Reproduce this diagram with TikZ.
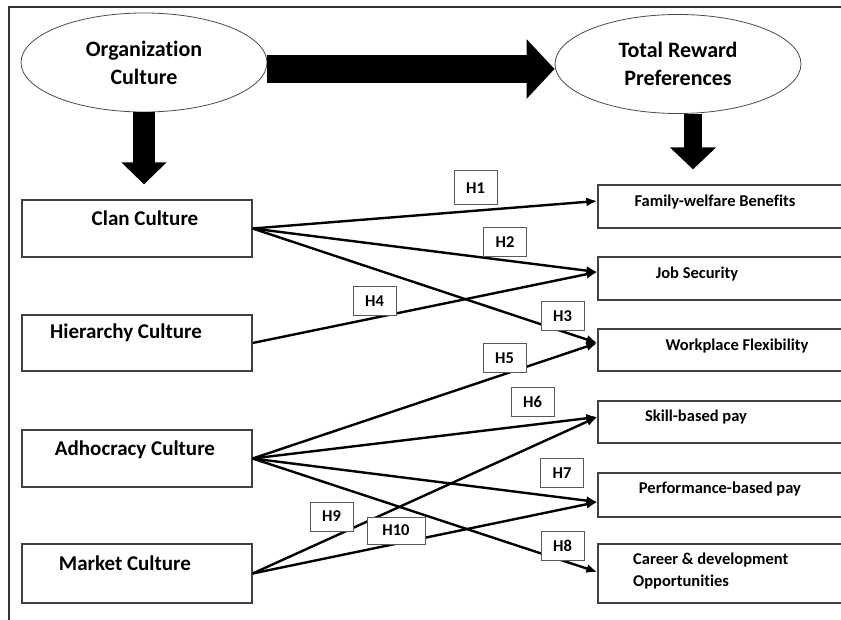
\documentclass[tikz,border=0pt]{standalone}
\usepackage{fontspec}
\setmainfont[Ligatures=NoCommon]{Carlito}
\usetikzlibrary{arrows.meta,shapes.geometric}
\tikzset{
  oval/.style={ellipse, draw=black!70, line width=0.8pt, fill=white, minimum width=246pt, minimum height=99pt, inner sep=0pt, align=center, font=\fontsize{22}{28}\selectfont\bfseries},
  cbox/.style={draw=black!75, line width=1.3pt, minimum width=230pt, inner sep=0pt},
  rbox/.style={draw=black!75, line width=1.3pt, minimum width=272pt, inner sep=0pt},
  ltxt/.style={font=\fontsize{21}{25}\selectfont\bfseries, inner sep=0pt},
  rtxt/.style={font=\fontsize{16.5}{22}\selectfont\bfseries, inner sep=0pt},
  hyp/.style={draw=black!65, line width=1pt, fill=white, minimum width=43pt, minimum height=29pt, inner sep=0pt, font=\fontsize{16.5}{20}\selectfont\bfseries},
  link/.style={line width=2.4pt, -{Latex[length=11pt,width=9pt]}},
}
\begin{document}
\begin{tikzpicture}[x=1pt,y=-1pt]
\useasboundingbox (0,0) rectangle (841,620);
\clip (0,0) rectangle (841,620);
\fill[white] (0,0) rectangle (841,620);
% frame
\draw[black!80, line width=2pt] (9,7) rectangle (860,640);

% ellipses
\node[oval] (oc) at (144,62.5) {Organization\\Culture};
\node[oval] (tr) at (678,64) {Total Reward\\Preferences};

% left boxes
\node[cbox, minimum height=57pt] (clan) at (137,228.5) {};
\node[cbox, minimum height=56pt] (hier) at (137,343) {};
\node[cbox, minimum height=57pt] (adho) at (137,458.5) {};
\node[cbox, minimum height=59pt] (mark) at (137,573.5) {};
\node[ltxt] (tclan) at (145,218) {Clan Culture};
\node[ltxt] (thier) at (126,333) {Hierarchy Culture};
\node[ltxt] (tadho) at (135,450) {Adhocracy Culture};
\node[ltxt] (tmark) at (125,563) {Market Culture};

% right boxes
\node[rbox, minimum height=43pt] (fam) at (734,206.5) {};
\node[rbox, minimum height=43pt] (job) at (734,278.5) {};
\node[rbox, minimum height=42pt] (work) at (734,350) {};
\node[rbox, minimum height=42pt] (skill) at (734,422) {};
\node[rbox, minimum height=44pt] (perf) at (734,495) {};
\node[rbox, minimum height=59pt] (car) at (734,573.5) {};
\node[rtxt] (tfam) at (715,202) {Family-welfare Benefits};
\node[rtxt] (tjob) at (697,274) {Job Security};
\node[rtxt] (twork) at (737,346) {Workplace Flexibility};
\node[rtxt] (tskill) at (696,417) {Skill-based pay};
\node[rtxt] (tperf) at (720,489) {Performance-based pay};
\node[rtxt, anchor=west, align=left] (tcar) at (633,571) {Career \& development\\Opportunities};

% fat arrows
\draw[line width=28pt, -{Triangle[length=28pt,width=58pt]}] ([yshift=-6.5pt]oc.east) -- ([yshift=-5pt]tr.west);
\draw[line width=22pt, -{Triangle[length=22pt,width=44pt]}, shorten >=15pt] (oc.south) -- (oc.south |- clan.north);
\coordinate (d2) at ([xshift=15pt]tr.south);
\draw[line width=18pt, -{Triangle[length=22pt,width=45pt]}, shorten >=15pt] (d2) -- (d2 |- fam.north);

% hypotheses links
\draw[link] (clan.east) -- ([yshift=5.5pt]fam.west);
\draw[link] (clan.east) -- ([yshift=6.5pt]job.west);
\draw[link] (clan.east) -- ([yshift=7pt]work.west);
\draw[link] (hier.east) -- ([yshift=6.5pt]job.west);
\draw[link] (adho.east) -- ([yshift=7pt]work.west);
\draw[link] (adho.east) -- ([yshift=5pt]skill.west);
\draw[link] (adho.east) -- ([yshift=-7pt]perf.west);
\draw[link] (adho.east) -- ([yshift=1.5pt]car.west);
\draw[link] (mark.east) -- ([yshift=5pt]skill.west);
\draw[link] (mark.east) -- ([yshift=-7pt]perf.west);

% hypothesis labels
\node[hyp, minimum height=34pt] (h1) at (475.5,188) {H1};
\node[hyp] (h2) at (505,242.5) {H2};
\node[hyp] (h3) at (562.5,316) {H3};
\node[hyp] (h4) at (374.5,301.5) {H4};
\node[hyp] (h5) at (504.5,358) {H5};
\node[hyp] (h6) at (532.5,401.5) {H6};
\node[hyp] (h7) at (562,473) {H7};
\node[hyp] (h8) at (562.5,546) {H8};
\node[hyp] (h9) at (331.5,516.5) {H9};
\node[hyp, minimum width=58pt, minimum height=27pt] (h10) at (396,530.5) {H10};
\end{tikzpicture}
\end{document}
